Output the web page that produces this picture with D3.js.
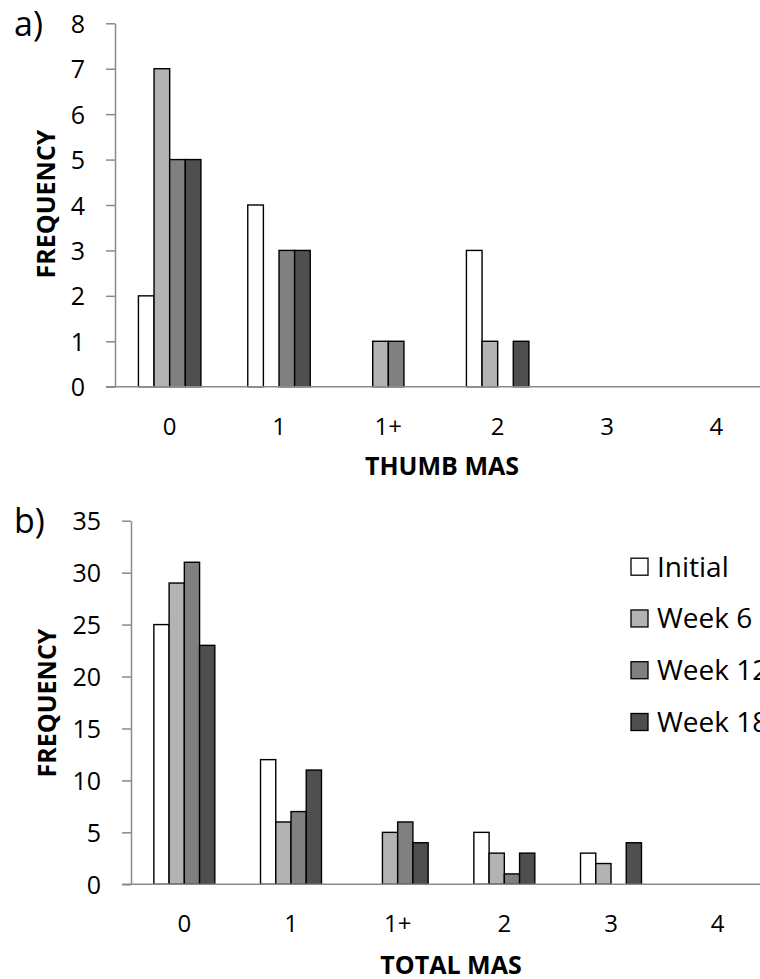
<!DOCTYPE html>
<html>
<head>
<meta charset="utf-8">
<script src="https://cdn.jsdelivr.net/npm/d3@7"></script>
<style>
  html, body { margin: 0; padding: 0; background: #fff; overflow: hidden; }
  svg { display: block; font-family: "Open Sans", sans-serif; }
</style>
</head>
<body>
<svg id="chart" width="760" height="979"></svg>
<script>
// ---- data ----
const categories = ["0", "1", "1+", "2", "3", "4"];
const seriesNames = ["Initial", "Week 6", "Week 12", "Week 18"];
const seriesColors = ["#ffffff", "#b3b3b3", "#808080", "#4f4f4f"];

// a) THUMB MAS
const thumbInitial = [2, 4, 0, 3, 0, 0];
const thumbWeek6   = [7, 0, 1, 1, 0, 0];
const thumbWeek12  = [5, 3, 1, 0, 0, 0];
const thumbWeek18  = [5, 3, 0, 1, 0, 0];
const thumbTicks   = [0, 1, 2, 3, 4, 5, 6, 7, 8];

// b) TOTAL MAS
const totalInitial = [25, 12, 0, 5, 3, 0];
const totalWeek6   = [29, 6, 5, 3, 2, 0];
const totalWeek12  = [31, 7, 6, 1, 0, 0];
const totalWeek18  = [23, 11, 4, 3, 4, 0];
const totalTicks   = [0, 5, 10, 15, 20, 25, 30, 35];

const svg = d3.select("#chart");

function drawPanel(cfg) {
  const g = svg.append("g");
  const series = cfg.values.map((vals, i) => ({ name: seriesNames[i], color: seriesColors[i], vals }));

  const x0 = d3.scaleBand().domain(categories).range([cfg.left, cfg.right]).paddingInner(0).paddingOuter(0);
  const x1 = d3.scaleBand().domain(seriesNames).range([0, x0.bandwidth()]).paddingInner(0).paddingOuter(1.5);
  const y = d3.scaleLinear().domain([0, cfg.max]).range([cfg.bottom, cfg.top]);

  // bars
  series.forEach(s => {
    g.append("g").selectAll("rect")
      .data(categories.map((c, j) => ({ c, v: s.vals[j] })).filter(d => d.v > 0))
      .join("rect")
      .attr("x", d => x0(d.c) + x1(s.name))
      .attr("y", d => y(d.v))
      .attr("width", x1.bandwidth())
      .attr("height", d => y(0) - y(d.v))
      .attr("fill", s.color)
      .attr("stroke", "#000")
      .attr("stroke-width", 1.4);
  });

  // y axis
  const yAxis = d3.axisLeft(y).tickValues(cfg.ticks).tickSize(9).tickPadding(21).tickSizeOuter(0);
  const ya = g.append("g").attr("transform", `translate(${cfg.left},0)`).call(yAxis);
  ya.select(".domain").attr("stroke", "#8a8a8a").attr("stroke-width", 1.5);
  ya.selectAll(".tick line").attr("stroke", "#8a8a8a").attr("stroke-width", 1.5);
  ya.selectAll(".tick text").attr("font-size", 25).attr("fill", "#000")
    .attr("font-family", "Open Sans, sans-serif").attr("dy", "0.36em");

  // x axis
  const xAxis = d3.axisBottom(x0).tickSize(0).tickPadding(31).tickSizeOuter(0);
  const xa = g.append("g").attr("transform", `translate(0,${cfg.bottom})`).call(xAxis);
  xa.select(".domain").remove();
  xa.append("line").attr("x1", cfg.left - 9).attr("x2", 760).attr("y1", 0).attr("y2", 0)
    .attr("stroke", "#8a8a8a").attr("stroke-width", 1.5);
  xa.selectAll(".tick text").attr("font-size", 24).attr("fill", "#000")
    .attr("font-family", "Open Sans, sans-serif");

  // axis titles
  g.append("text")
    .attr("transform", `translate(${cfg.yTitleX},${cfg.yTitleY}) rotate(-90)`)
    .attr("text-anchor", "middle").attr("font-weight", "bold").attr("font-size", 25)
    .text("FREQUENCY");
  g.append("text")
    .attr("x", cfg.xTitleX).attr("y", cfg.xTitleY)
    .attr("text-anchor", "middle").attr("font-weight", "bold").attr("font-size", 25)
    .text(cfg.xTitle);

  // panel label
  g.append("text").attr("x", 14).attr("y", cfg.labelY)
    .attr("font-size", 34).text(cfg.label);

  return { x0, y };
}

drawPanel({
  values: [thumbInitial, thumbWeek6, thumbWeek12, thumbWeek18],
  max: 8, ticks: thumbTicks,
  left: 115, right: 771, top: 23.3, bottom: 386.7,
  yTitleX: 55, yTitleY: 204,
  xTitle: "THUMB MAS", xTitleX: 442, xTitleY: 475,
  label: "a)", labelY: 36
});

drawPanel({
  values: [totalInitial, totalWeek6, totalWeek12, totalWeek18],
  max: 35, ticks: totalTicks,
  left: 131, right: 771, top: 520.7, bottom: 884.3,
  yTitleX: 56, yTitleY: 703,
  xTitle: "TOTAL MAS", xTitleX: 451, xTitleY: 974,
  label: "b)", labelY: 533
});

// legend
const legendY = d3.scalePoint().domain(seriesNames).range([566.7, 722]);
const lg = svg.append("g").selectAll("g").data(seriesNames).join("g")
  .attr("transform", d => `translate(631,${legendY(d)})`);
lg.append("rect").attr("x", 0).attr("y", -8.5).attr("width", 17).attr("height", 17)
  .attr("fill", (d, i) => seriesColors[i]).attr("stroke", "#000").attr("stroke-width", 1.3);
lg.append("text").attr("x", 26).attr("y", 10).attr("font-size", 28).text(d => d);
</script>
</body>
</html>
